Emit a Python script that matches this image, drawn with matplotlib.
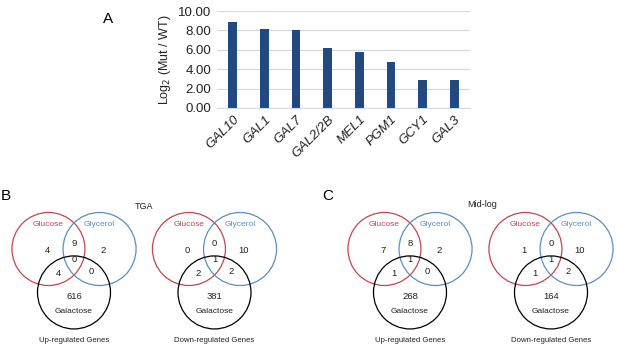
import matplotlib
matplotlib.use("Agg")
import matplotlib.pyplot as plt
from matplotlib.patches import Circle

plt.rcParams.update({"font.family": ["Liberation Sans", "DejaVu Sans"]})

# ---- data ----
genes = ["GAL10", "GAL1", "GAL7", "GAL2/2B", "MEL1", "PGM1", "GCY1", "GAL3"]
log2_ratio = [8.85, 8.13, 8.03, 6.18, 5.80, 4.73, 2.90, 2.84]
yticks = [0, 2, 4, 6, 8, 10]

venn_sets = ["Glucose", "Glycerol", "Galactose"]
# region order: glc only, glc&gly, gly only, all three, glc&gal, gly&gal, gal only
tga_up = [4, 9, 2, 0, 4, 0, 616]
tga_down = [0, 0, 10, 1, 2, 2, 381]
midlog_up = [7, 8, 2, 1, 1, 0, 268]
midlog_down = [1, 0, 10, 1, 1, 2, 164]

BAR = "#214a80"
RED, BLUE = "#c4444f", "#5a8ec6"
INK = "#222222"

fig = plt.figure(figsize=(6.17, 3.47), dpi=100)

# ---- panel A ----
ax = fig.add_axes([217 / 617, 1 - 108 / 347, 253 / 617, 97 / 347])
x = range(len(genes))
ax.bar(x, log2_ratio, width=0.28, color=BAR, zorder=3)
ax.set_ylim(0, 10)
ax.set_xlim(-0.5, len(genes) - 0.5)
ax.set_yticks(yticks)
ax.set_yticklabels([f"{v:.2f}" for v in yticks], fontsize=9.5, color=INK)
ax.set_xticks(list(x))
ax.set_xticklabels(genes, rotation=45, ha="right", rotation_mode="anchor",
                   fontsize=9.5, style="italic", color=INK)
ax.tick_params(length=0, pad=4)
ax.grid(axis="y", color="#d9d9d9", lw=0.9, zorder=0)
for s in ["top", "right", "left"]:
    ax.spines[s].set_visible(False)
ax.spines["bottom"].set_color("#d9d9d9")
ax.set_ylabel("Log$_2$ (Mut / WT)", fontsize=9, color=INK, labelpad=4)
fig.text(108 / 617, 1 - 19 / 347, "A", fontsize=11, ha="center", va="center")

# ---- panels B, C ----
ov = fig.add_axes([0, 0, 1, 1])
ov.set_xlim(0, 617)
ov.set_ylim(347, 0)
ov.axis("off")

R = 36.5
centres = [(-0.7, 0.0), (0.7, 0.0), (0.0, -1.19)]
ring_cols = [RED, BLUE, "black"]
count_pos = [(-0.74, -0.03), (0.0, 0.14), (0.79, -0.03), (0.0, -0.3),
             (-0.44, -0.68), (0.46, -0.63), (0.0, -1.29)]


def venn(cx, cy, counts, caption):
    for (ux, uy), c in zip(centres, ring_cols):
        ov.add_patch(Circle((cx + ux * R, cy - uy * R), R, fill=False,
                            ec=c, lw=0.9))
    ov.text(cx - 0.7 * R, cy - 0.68 * R, venn_sets[0], color=RED,
            fontsize=6, ha="center", va="center")
    ov.text(cx + 0.7 * R, cy - 0.68 * R, venn_sets[1], color=BLUE,
            fontsize=6, ha="center", va="center")
    ov.text(cx, cy + 1.70 * R, venn_sets[2], color=INK,
            fontsize=6, ha="center", va="center")
    for (ux, uy), n in zip(count_pos, counts):
        ov.text(cx + ux * R, cy - uy * R, str(n), fontsize=6.8,
                ha="center", va="center", color=INK)
    ov.text(cx, cy + 2.51 * R, caption, fontsize=5.6, ha="center",
            va="center", color=INK)


venn(74, 249, tga_up, "Up-regulated Genes")
venn(214.5, 249, tga_down, "Down-regulated Genes")
venn(410, 249, midlog_up, "Up-regulated Genes")
venn(551, 249, midlog_down, "Down-regulated Genes")

ov.text(144, 206, "TGA", fontsize=6.5, ha="center", va="center", color=INK)
ov.text(482, 204, "Mid-log", fontsize=6.5, ha="center", va="center", color=INK)
ov.text(6, 196, "B", fontsize=11, ha="center", va="center")
ov.text(328, 196, "C", fontsize=11, ha="center", va="center")

fig.savefig("out.png", dpi=100)
